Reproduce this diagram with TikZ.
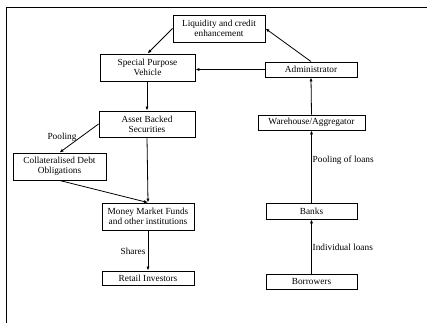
\documentclass[tikz,border=0pt]{standalone}
\usepackage{fontspec}
\setmainfont{Liberation Serif}
\usetikzlibrary{arrows.meta}
\begin{document}
\begin{tikzpicture}[x=1pt, y=-1pt,
  every node/.style={font=\fontsize{9.3}{10.3}\selectfont, inner sep=0pt},
  box/.style={draw, line width=0.9pt, align=center},
  flow/.style={line width=0.8pt, -{Latex[length=4pt,width=3.2pt]}},
  lbl/.style={}]
\useasboundingbox (0,0) rectangle (428,324);
% page frame (left and top edges)
\draw[line width=1pt] (6,323) -- (6,7) -- (427,7);

% securitisation side
\node[box, minimum width=92pt, minimum height=27pt] (liq) at (219,28.5) {Liquidity and credit\\enhancement};
\node[box, minimum width=95pt, minimum height=27pt] (spv) at (147.5,67.5) {Special Purpose\\Vehicle};
\node[box, minimum width=96pt, minimum height=26pt] (abs) at (147,124) {Asset Backed\\Securities};
\node[box, minimum width=93pt, minimum height=27pt] (cdo) at (59.5,166.5) {Collateralised Debt\\Obligations};
\node[box, minimum width=92pt, minimum height=27pt] (mmf) at (148,216.5) {Money Market Funds\\and other institutions};
\node[box, minimum width=92pt, minimum height=14pt] (ret) at (148,278) {Retail Investors};

% lending side
\node[box, minimum width=92pt, minimum height=15pt] (adm) at (311,69.5) {Administrator};
\node[box, minimum width=107pt, minimum height=15pt] (wh) at (311.5,122.5) {Warehouse/Aggregator};
\node[box, minimum width=91pt, minimum height=16pt] (bank) at (311.5,211) {Banks};
\node[box, minimum width=91pt, minimum height=15pt] (bor) at (311.5,281.5) {Borrowers};

% connectors
\draw[flow] (adm.north) -- (liq.east);
\draw[flow] (liq.west) -- (spv.north);
\draw[flow] (adm.west) -- (adm.west -| spv.east);
\draw[flow] (spv.south) -- (abs.south |- spv.south) -- (abs.north);
\draw[flow] (abs.west) -- (cdo.north);
\draw[flow] (abs.south) -- (mmf.north);
\draw[flow] (cdo.south) -- (mmf.north);
\draw[flow] (mmf.south) -- (ret.north);
\draw[flow] (wh.north) -- (adm.south);
\draw[flow] (bank.north) -- (wh.south);
\draw[flow] (bor.north) -- (bank.south);

% connector labels
\node[lbl] (lpool) at (62,137) {Pooling};
\node[lbl] (lshares) at (133,251) {Shares};
\node[lbl, anchor=west] (lpoolloans) at (312.5,160) {Pooling of loans};
\node[lbl, anchor=west] (lindiv) at (312.5,247) {Individual loans};
\end{tikzpicture}
\end{document}
